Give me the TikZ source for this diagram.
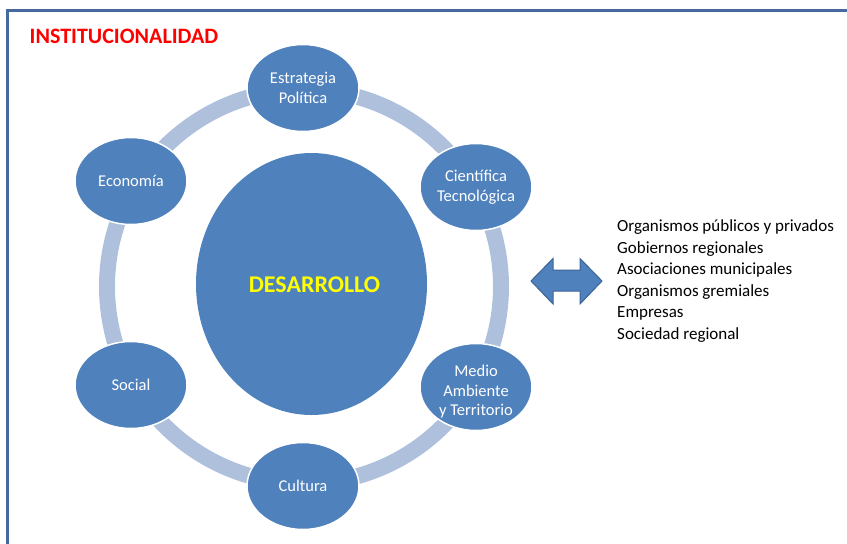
\documentclass[tikz,border=0pt]{standalone}
\usepackage{fontspec}
\setmainfont{Carlito}
\usetikzlibrary{shapes.geometric}
\definecolor{nodeblue}{RGB}{79,129,189}
\definecolor{ringblue}{RGB}{175,192,221}
\definecolor{framecol}{RGB}{70,106,158}
\definecolor{arrowedge}{RGB}{60,100,150}
\definecolor{devyellow}{RGB}{255,255,0}
\begin{document}
\begin{tikzpicture}[x=1pt,y=-1pt,
  sat/.style={ellipse, fill=nodeblue, draw=white, line width=1.5pt,
    minimum width=112pt, minimum height=87pt, inner sep=0pt},
  sattext/.style={text=white, align=center, inner sep=0pt,
    font=\fontsize{16.5}{19.5}\selectfont},
  listtext/.style={anchor=base west, inner sep=0pt,
    font=\fontsize{17}{20}\selectfont},
  ring/.style={draw=ringblue, line width=16pt},
  dblarrow/.style={fill=nodeblue, draw=arrowedge, line width=1pt, line join=miter}]
\useasboundingbox (0,0) rectangle (847,544);
% frame
\draw[framecol, line width=3pt] (7.5,544) -- (7.5,10) -- (847,10);
\node[anchor=base west, inner sep=0pt, text=red,
  font=\bfseries\fontsize{22}{26}\selectfont] (inst) at (29.5,43.3) {INSTITUCIONALIDAD};
% ring
\draw[ring] (304,286.5) circle[radius=197pt];
% centre
\node[ellipse, fill=nodeblue, inner sep=0pt, minimum width=231pt, minimum height=262pt] (c) at (311.5,284) {};
\node[anchor=base, inner sep=0pt, text=devyellow,
  font=\bfseries\fontsize{24}{28}\selectfont] (dtext) at (314.5,292.5) {DESARROLLO};
% satellites
\node[sat] (e1) at (303,88) {};
\node[sat] (e2) at (476,187) {};
\node[sat] (e3) at (476,387) {};
\node[sat] (e4) at (303,486) {};
\node[sat] (e5) at (131,385) {};
\node[sat] (e6) at (131,181) {};
\node[sattext] (t1) at (e1.center) {Estrategia\\Política};
\node[sattext] (t2) at (e2.center) {Científica\\Tecnológica};
\node[sattext, yshift=-5pt] (t3) at (e3.center) {Medio\\Ambiente\\y Territorio};
\node[sattext] (t4) at (e4.center) {Cultura};
\node[sattext] (t5) at (e5.center) {Social};
\node[sattext] (t6) at (e6.center) {Economía};
% double arrow
\draw[dblarrow] (531,281) -- (553,258.5) -- (553,270) -- (580,270) -- (580,258.5)
  -- (602,281) -- (580,304) -- (580,291) -- (553,291) -- (553,304) -- cycle;
% list
\foreach \txt [count=\i] in {Organismos públicos y privados, Gobiernos regionales,
  Asociaciones municipales, Organismos gremiales, Empresas, Sociedad regional}
  \node[listtext] (l\i) at (617,{231.5+21.6*(\i-1)}) {\txt};
\end{tikzpicture}
\end{document}
